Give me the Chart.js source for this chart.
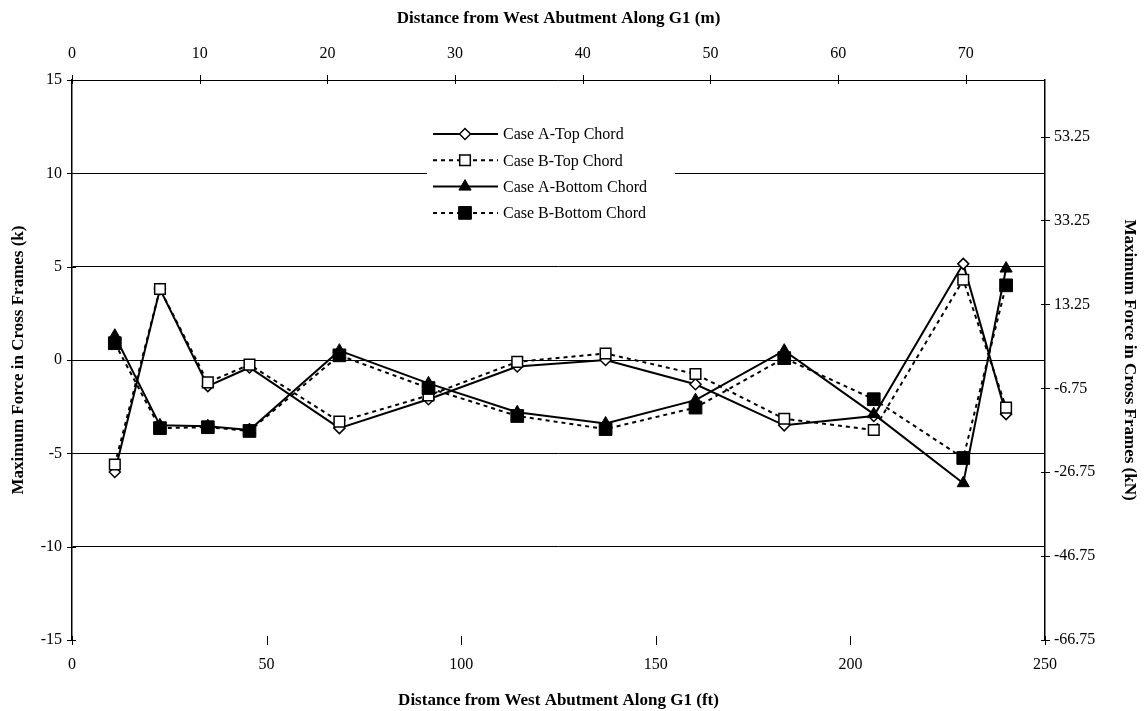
<!DOCTYPE html>
<html lang="en">
  <head>
    <meta charset="UTF-8" />
    <title>Cross Frame Forces</title>
    <script src="https://cdn.jsdelivr.net/npm/chart.js@4.4.1/dist/chart.umd.min.js"></script>
    <style>
      body { margin: 0; background: #fff; }
      #wrap { width: 1145px; height: 711px; }
    </style>
  </head>
  <body>
    <div id="wrap"><canvas id="myChart"></canvas></div>
    <script>
      // cross frame locations (ft from west abutment)
      const feet = [11, 22.6, 34.9, 45.6, 68.7, 91.6, 114.4, 137.1, 160.2, 183, 206, 229, 240];
      // max force (k)
      const caseATop = [-6.0, 3.8, -1.4, -0.4, -3.65, -2.1, -0.35, 0.0, -1.3, -3.5, -3.0, 5.15, -2.9];
      const caseBTop = [-5.6, 3.8, -1.2, -0.25, -3.3, -1.9, -0.1, 0.35, -0.75, -3.15, -3.75, 4.3, -2.55];
      const caseABottom = [1.3, -3.5, -3.55, -3.75, 0.5, -1.25, -2.8, -3.4, -2.15, 0.5, -2.9, -6.6, 4.9];
      const caseBBottom = [0.9, -3.65, -3.6, -3.8, 0.25, -1.5, -3.0, -3.7, -2.55, 0.1, -2.1, -5.25, 4.0];
      const meterTicks = [0, 10, 20, 30, 40, 50, 60, 70];
      const kNTicks = [-66.75, -46.75, -26.75, -6.75, 13.25, 33.25, 53.25];

      const FT_PER_M = 3.2808;
      const KN_PER_K = 4.448;
      const serif = '"Liberation Serif", "Times New Roman", serif';

      Chart.defaults.font.family = serif;
      Chart.defaults.font.size = 16;
      Chart.defaults.color = "#000";

      const pts = arr => arr.map((v, i) => ({ x: feet[i], y: v }));

      // tick marks that cross each axis line
      const crossTicks = {
        id: "crossTicks",
        afterDraw(chart) {
          const ctx = chart.ctx;
          const a = chart.chartArea;
          ctx.save();
          ctx.strokeStyle = "#000";
          ctx.lineWidth = 1;
          ctx.beginPath();
          chart.scales.x.ticks.forEach(t => {
            const px = Math.round(chart.scales.x.getPixelForValue(t.value)) + 0.5;
            ctx.moveTo(px, a.bottom - 4); ctx.lineTo(px, a.bottom + 5);
          });
          chart.scales.x2.ticks.forEach(t => {
            const px = Math.round(chart.scales.x2.getPixelForValue(t.value)) + 0.5;
            ctx.moveTo(px, a.top - 5); ctx.lineTo(px, a.top + 4);
          });
          chart.scales.y.ticks.forEach(t => {
            const py = Math.round(chart.scales.y.getPixelForValue(t.value)) + 0.5;
            ctx.moveTo(a.left - 5, py); ctx.lineTo(a.left + 4, py);
          });
          chart.scales.y2.ticks.forEach(t => {
            const py = Math.round(chart.scales.y2.getPixelForValue(t.value)) + 0.5;
            ctx.moveTo(a.right - 4, py); ctx.lineTo(a.right + 5, py);
          });
          ctx.stroke();
          ctx.restore();
        }
      };

      // legend box sitting inside the plot
      const boxLegend = {
        id: "boxLegend",
        afterDatasetsDraw(chart) {
          const ctx = chart.ctx;
          const x0 = 427, x1 = 675, y0 = 121, rowH = 26.3;
          ctx.save();
          ctx.fillStyle = "#fff";
          ctx.fillRect(x0, y0, x1 - x0, rowH * 4 + 2);
          chart.data.datasets.forEach((ds, i) => {
            const y = y0 + 13 + i * rowH;
            ctx.strokeStyle = "#000";
            ctx.lineWidth = ds.borderWidth;
            ctx.setLineDash(ds.borderDash || []);
            ctx.beginPath();
            ctx.moveTo(433, y);
            ctx.lineTo(498, y);
            ctx.stroke();
            ctx.setLineDash([]);
            ctx.fillStyle = ds.pointBackgroundColor;
            ctx.lineWidth = ds.pointBorderWidth;
            Chart.helpers.drawPoint(ctx, { pointStyle: ds.pointStyle, radius: ds.pointRadius, borderWidth: ds.pointBorderWidth, rotation: 0 }, 465, y);
            ctx.fillStyle = "#000";
            ctx.font = "16px " + serif;
            ctx.textBaseline = "middle";
            ctx.fillText(ds.label, 503, y + 1);
          });
          ctx.restore();
        }
      };

      const ctx = document.getElementById("myChart").getContext("2d");
      const chart = new Chart(ctx, {
        type: "scatter",
        data: {
          datasets: [
            {
              label: "Case A-Top Chord",
              data: pts(caseATop),
              showLine: true,
              borderColor: "#000",
              borderWidth: 2,
              pointStyle: "rectRot",
              pointRadius: 5.5,
              pointBackgroundColor: "#fff",
              pointBorderColor: "#000",
              pointBorderWidth: 1.5,
              order: 4
            },
            {
              label: "Case B-Top Chord",
              data: pts(caseBTop),
              showLine: true,
              borderColor: "#000",
              borderWidth: 2,
              borderDash: [4, 4],
              pointStyle: "rect",
              pointRadius: 7.5,
              pointBackgroundColor: "#fff",
              pointBorderColor: "#000",
              pointBorderWidth: 1.5,
              order: 3
            },
            {
              label: "Case A-Bottom Chord",
              data: pts(caseABottom),
              showLine: true,
              borderColor: "#000",
              borderWidth: 2,
              pointStyle: "triangle",
              pointRadius: 7,
              pointBackgroundColor: "#000",
              pointBorderColor: "#000",
              pointBorderWidth: 1,
              order: 2
            },
            {
              label: "Case B-Bottom Chord",
              data: pts(caseBBottom),
              showLine: true,
              borderColor: "#000",
              borderWidth: 2,
              borderDash: [4, 4],
              pointStyle: "rect",
              pointRadius: 9,
              pointBackgroundColor: "#000",
              pointBorderColor: "#000",
              pointBorderWidth: 1,
              order: 1
            }
          ]
        },
        options: {
          responsive: true,
          maintainAspectRatio: false,
          animation: false,
          layout: { padding: 0 },
          plugins: {
            legend: { display: false },
            tooltip: { enabled: false }
          },
          scales: {
            x: {
              type: "linear",
              position: "bottom",
              min: 0,
              max: 250,
              ticks: { stepSize: 50, padding: 15, maxRotation: 0 },
              grid: { display: false, drawTicks: false },
              border: { display: false },
              title: {
                display: true,
                text: "Distance from West Abutment Along G1 (ft)",
                font: { size: 17, weight: "bold" },
                padding: { top: 8, bottom: 0 }
              },
              afterFit: s => { s.height = 71; }
            },
            x2: {
              type: "linear",
              position: "top",
              min: 0,
              max: 250 / FT_PER_M,
              afterBuildTicks: s => { s.ticks = meterTicks.map(v => ({ value: v })); },
              ticks: { padding: 17, maxRotation: 0 },
              grid: { display: false, drawTicks: false },
              border: { display: false },
              title: {
                display: true,
                text: "Distance from West Abutment Along G1 (m)",
                font: { size: 17, weight: "bold" },
                padding: { top: 8, bottom: 0 }
              },
              afterFit: s => { s.height = 80; }
            },
            y: {
              position: "left",
              min: -15,
              max: 15,
              ticks: { stepSize: 5, padding: 10 },
              grid: {
                color: c => (c.tick && c.tick.value === -15 ? "rgba(0,0,0,0)" : "#000"),
                lineWidth: 1,
                drawTicks: false
              },
              border: { display: true, color: "#000", width: 1.5 },
              title: {
                display: true,
                text: "Maximum Force in Cross Frames (k)",
                font: { size: 17, weight: "bold" },
                padding: { top: 8, bottom: 0 }
              },
              afterFit: s => { s.width = 72; }
            },
            y2: {
              position: "right",
              min: -15 * KN_PER_K,
              max: 15 * KN_PER_K,
              afterBuildTicks: s => { s.ticks = kNTicks.map(v => ({ value: v })); },
              ticks: { padding: 9, callback: v => v.toFixed(2) },
              grid: { drawOnChartArea: false, drawTicks: false },
              border: { display: true, color: "#000", width: 1.5 },
              title: {
                display: true,
                text: "Maximum Force in Cross Frames (kN)",
                font: { size: 17, weight: "bold" },
                padding: { top: 5, bottom: 0 }
              },
              afterFit: s => { s.width = 100; }
            }
          }
        },
        plugins: [crossTicks, boxLegend]
      });
    </script>
  </body>
</html>
